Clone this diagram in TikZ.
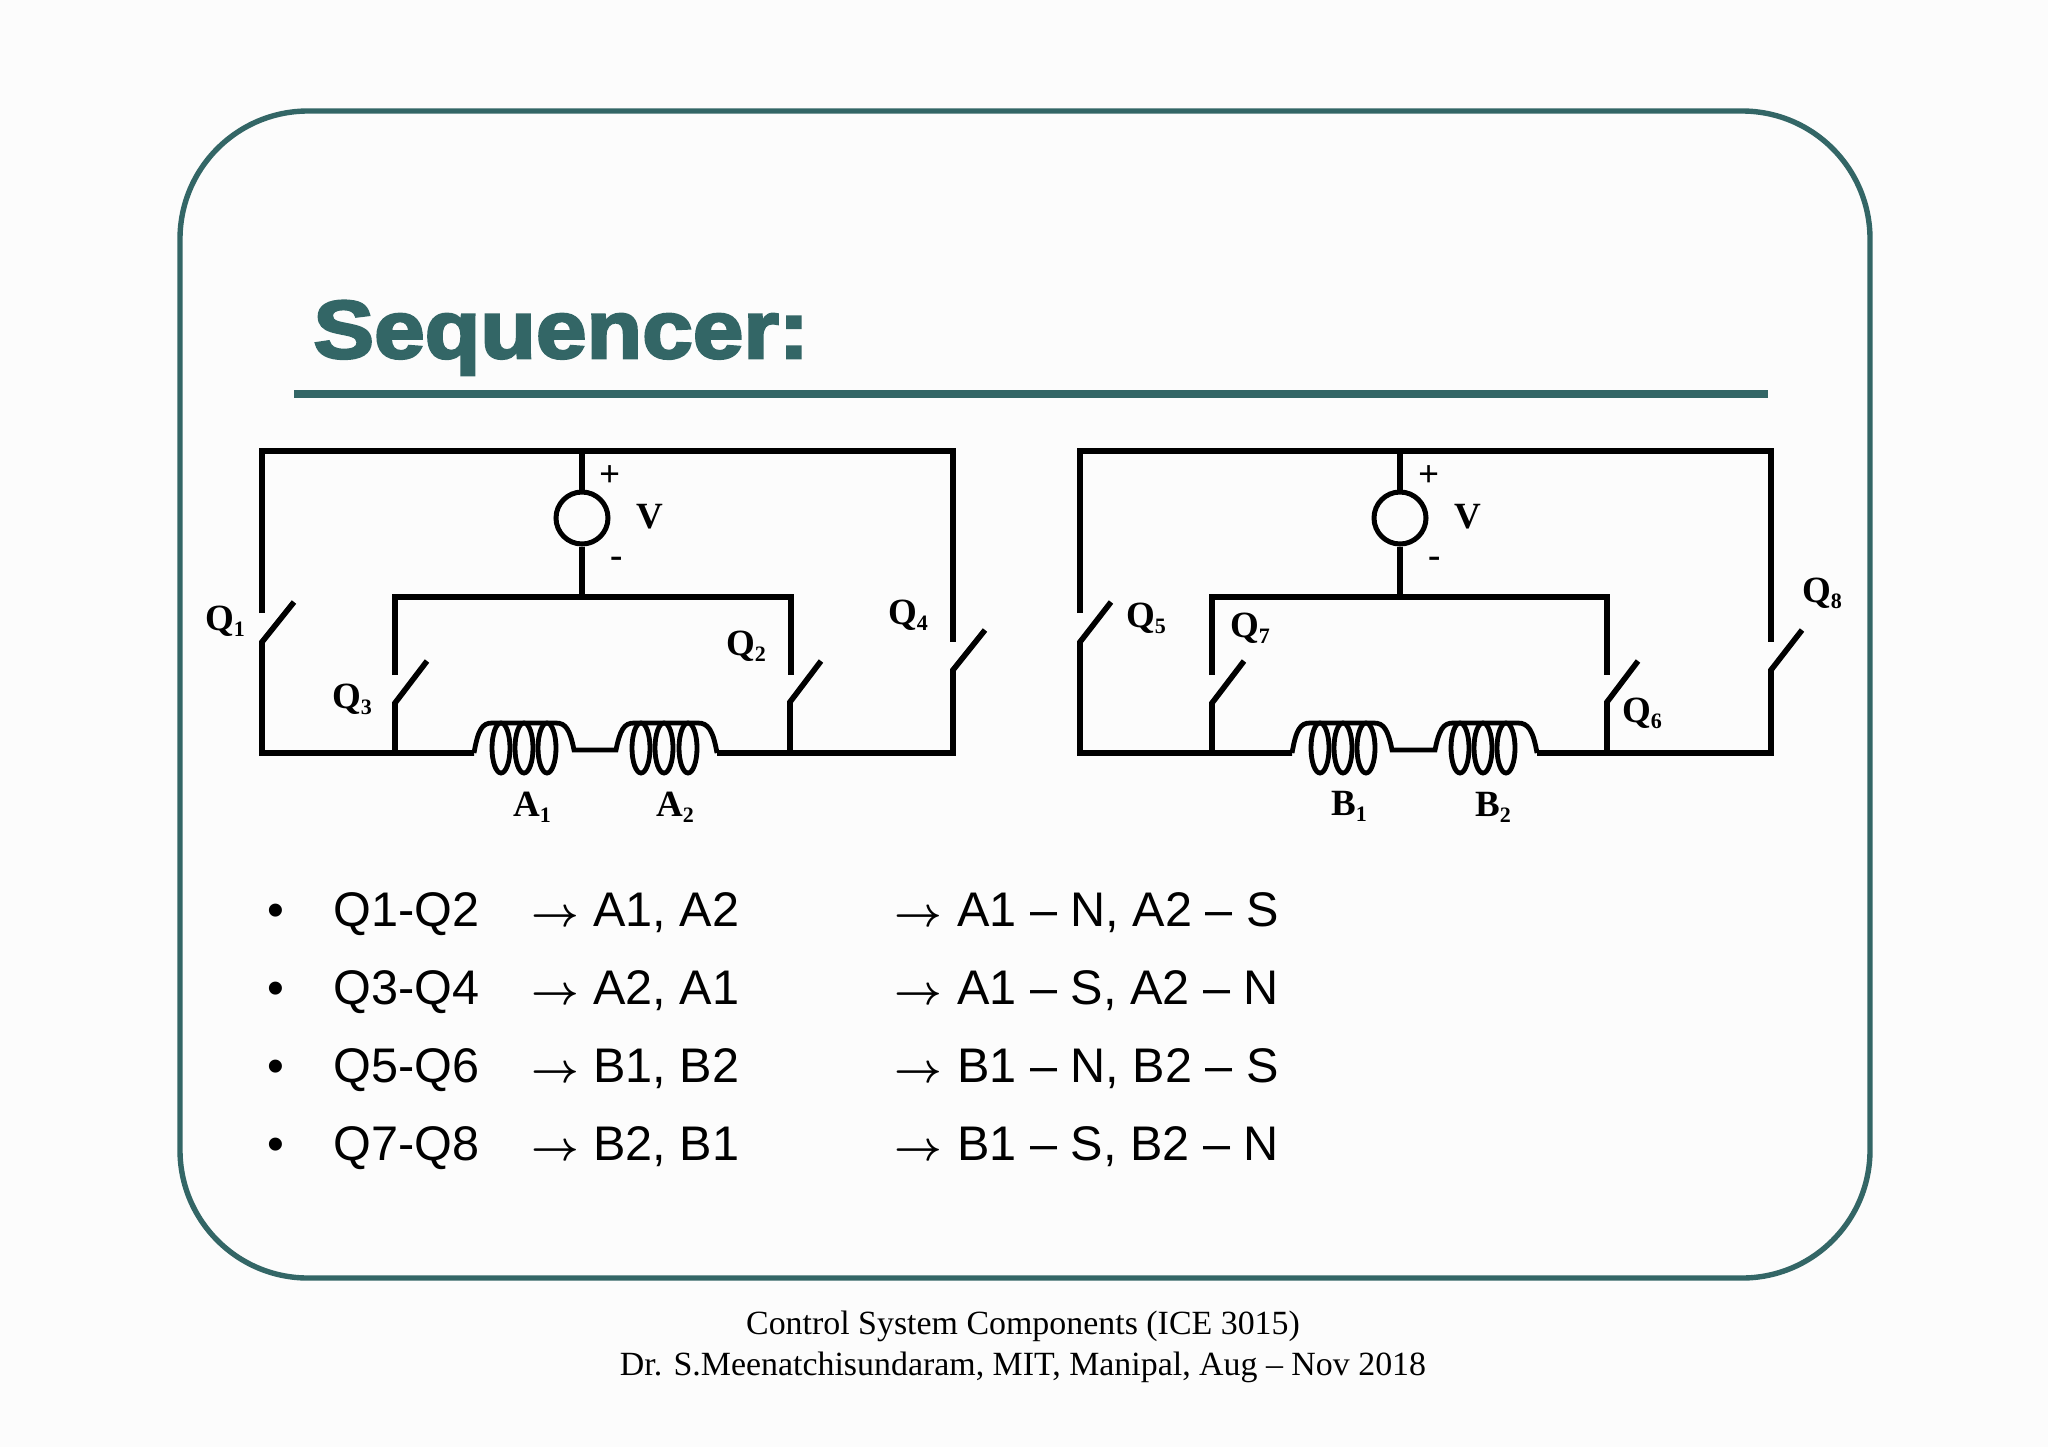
\documentclass[tikz,border=0pt]{standalone}
\usepackage{fontspec}
\setmainfont{Liberation Sans}
\newfontfamily\serifb{Liberation Serif Bold}
\newfontfamily\serifr{Liberation Serif}
\newfontfamily\titlef[FakeBold=3.2,FakeStretch=1.11]{Liberation Sans Bold}
\definecolor{teal1}{HTML}{336666}
\newcommand{\sbx}[1]{\raisebox{-0.35ex}{\fontsize{11}{11}\selectfont #1}}
\AtBeginDocument{\mathversion{bold}}
\tikzset{
  lab/.style={inner sep=0,font=\serifb\fontsize{18.5}{18.5}\selectfont},
  row/.style={inner sep=0,anchor=base west,font=\fontsize{24.3}{24.3}\selectfont},
  arrowtxt/.style={inner sep=0,anchor=base west,font=\fontsize{22}{22}\selectfont},
  bullettxt/.style={inner sep=0,anchor=base west,font=\fontsize{24}{24}\selectfont},
  wire/.style={line width=2.8pt, line cap=butt, line join=miter},
  topw/.style={line width=3.2pt, line cap=butt, line join=miter},
  src/.style={circle,draw,line width=2.5pt,minimum size=26pt,inner sep=0},
  coilw/.style={line width=2.4pt}
}
\begin{document}
\begin{tikzpicture}[x=0.5pt,y=-0.5pt]
\useasboundingbox (0,0) rectangle (2048,1447);
\fill[white!99!black] (0,0) rectangle (2048,1447);
% frame, title
\draw[teal1,line width=2.7pt,rounded corners=64pt] (180,111) rectangle (1870,1278);
\node[inner sep=0,anchor=base west,text=teal1,font=\titlef\fontsize{41}{41}\selectfont] (title) at (313,358) {Sequencer:};
\coordinate (ruleL) at (294,394);
\coordinate (ruleR) at (1768,394);
\draw[teal1,line width=3.6pt] (ruleL) -- (ruleR);

% circuit A
\node[src] (v1) at (582,518) {};
\coordinate (tl) at (262,451); \coordinate (tr) at (953,451);
\draw[topw] (262,613) -- (tl) -- (tr) -- (953,642);
\draw[wire] (v1.north) -- (582,451);
\draw[wire] (v1.south) -- (582,597);
\draw[wire] (395,675) -- (395,597) -- (791,597) -- (791,675);
\draw[wire] (294,602) -- (262,642) -- (262,753) -- (474,753);
\draw[wire] (427,661) -- (395,703) -- (395,753);
\draw[wire] (821,661) -- (790,702) -- (790,753);
\draw[wire] (985,630) -- (953,670) -- (953,753) -- (717,753);
\draw[coilw] (474,753) .. controls (478,730) and (482,723) .. (492,723) -- (556,723) .. controls (566,723) and (570,730) .. (574,750) -- (616,750) .. controls (620,730) and (624,723) .. (634,723) -- (698,723) .. controls (708,723) and (713,730) .. (717,753);
\foreach \cx in {501,524,547,641,664,688} \draw[coilw] (\cx,748) ellipse [x radius=9,y radius=25];
\node[lab] (q1) at (225,621) {Q\sbx{1}};
\node[lab] (q3) at (352,699) {Q\sbx{3}};
\node[lab] (q2) at (746,646) {Q\sbx{2}};
\node[lab] (q4) at (908,615) {Q\sbx{4}};
\node[lab] (v1l) at (650,517) {V};
\node[lab] (v1p) at (610,476) {+};
\node[lab] (v1m) at (617,562) {-};
\node[lab] (a1) at (532,807) {A\sbx{1}};
\node[lab] (a2) at (675,807) {A\sbx{2}};

% circuit B
\node[src] (v2) at (1400,518) {};
\coordinate (tl2) at (1080,451); \coordinate (tr2) at (1771,451);
\draw[topw] (1080,613) -- (tl2) -- (tr2) -- (1771,642);
\draw[wire] (v2.north) -- (1400,451);
\draw[wire] (v2.south) -- (1400,597);
\draw[wire] (1212,675) -- (1212,597) -- (1607,597) -- (1607,675);
\draw[wire] (1111,602) -- (1080,642) -- (1080,753) -- (1292,753);
\draw[wire] (1244,661) -- (1212,703) -- (1212,753);
\draw[wire] (1638,661) -- (1607,702) -- (1607,753);
\draw[wire] (1802,630) -- (1771,670) -- (1771,753) -- (1537,753);
\draw[coilw] (1292,753) .. controls (1296,730) and (1300,723) .. (1310,723) -- (1374,723) .. controls (1384,723) and (1388,730) .. (1392,750) -- (1435,750) .. controls (1439,730) and (1443,723) .. (1453,723) -- (1518,723) .. controls (1528,723) and (1533,730) .. (1537,753);
\foreach \cx in {1320,1343,1366,1460,1483,1506} \draw[coilw] (\cx,748) ellipse [x radius=9,y radius=25];
\node[lab] (q5) at (1146,618) {Q\sbx{5}};
\node[lab] (q7) at (1250,628) {Q\sbx{7}};
\node[lab] (q6) at (1642,713) {Q\sbx{6}};
\node[lab] (q8) at (1822,593) {Q\sbx{8}};
\node[lab] (v2l) at (1468,517) {V};
\node[lab] (v2p) at (1429,476) {+};
\node[lab] (v2m) at (1435,562) {-};
\node[lab] (b1) at (1349,806) {B\sbx{1}};
\node[lab] (b2) at (1493,807) {B\sbx{2}};

% list
\foreach \y/\a/\b/\c [count=\i] in {926/Q1-Q2/{A1, A2}/{A1 – N, A2 – S},
  1004/Q3-Q4/{A2, A1}/{A1 – S, A2 – N},
  1082/Q5-Q6/{B1, B2}/{B1 – N, B2 – S},
  1160/Q7-Q8/{B2, B1}/{B1 – S, B2 – N}} {
  \node[bullettxt] (bul\i) at (267,\y) {•};
  \node[row] (qq\i) at (333,\y) {\a};
  \node[arrowtxt] (ar\i) at (531,\y) {$\rightarrow$};
  \node[row] (co\i) at (593,\y) {\b};
  \node[arrowtxt] (br\i) at (894,\y) {$\rightarrow$};
  \node[row] (po\i) at (957,\y) {\c};
}
% footer
\node[inner sep=0,anchor=base,font=\serifr\fontsize{16.95}{17}\selectfont] (f1) at (1023,1334) {Control System Components (ICE 3015)};
\node[inner sep=0,anchor=base,font=\serifr\fontsize{16.95}{17}\selectfont] (f2) at (1023,1375) {Dr. S.Meenatchisundaram, MIT, Manipal, Aug – Nov 2018};
\end{tikzpicture}
\end{document}
